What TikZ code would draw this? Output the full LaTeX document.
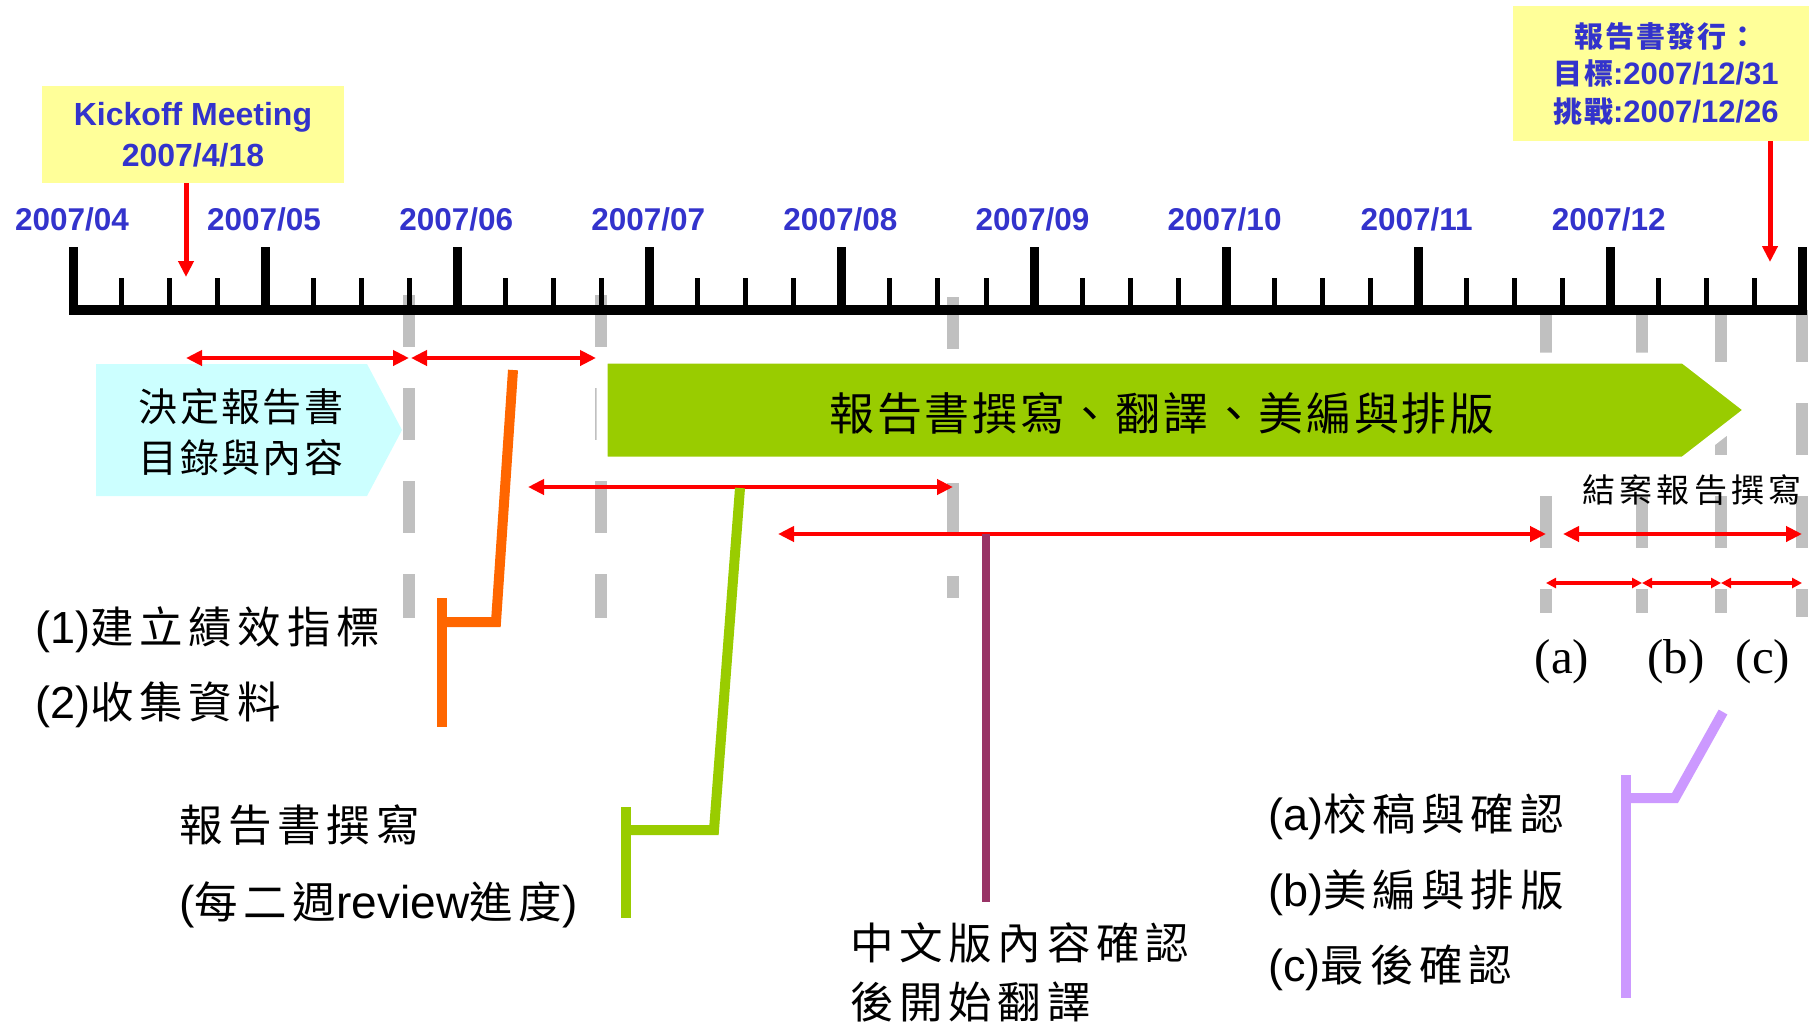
\documentclass[tikz,border=0pt]{standalone}
\usepackage{fontspec}
\setmainfont{Liberation Sans}
\newfontfamily\timesfont{Liberation Serif}
\newfontfamily\hanzi[LetterSpace=13]{Noto Sans CJK TC}
\newfontfamily\hanzimid[LetterSpace=6]{Noto Sans CJK TC}
\usetikzlibrary{arrows.meta}
\definecolor{titleblue}{HTML}{3333CC}
\definecolor{noteyellow}{HTML}{FFFF99}
\definecolor{planblue}{HTML}{CCFFFF}
\definecolor{writegreen}{HTML}{99CC00}
\definecolor{guidegray}{HTML}{C0C0C0}
\definecolor{leadorange}{HTML}{FF6600}
\definecolor{leadplum}{HTML}{993366}
\definecolor{leadlilac}{HTML}{CC99FF}
\newcommand\cjkword[1]{{\hanzi\fontsize{21.75}{21.75}\selectfont #1}}
\begin{document}
\begin{tikzpicture}[x=0.5pt,y=-0.5pt,
  guide/.style={guidegray,line width=6pt,dash pattern=on 26pt off 20.5pt},
  majortick/.style={line width=4.5pt},
  minortick/.style={line width=2.5pt},
  month/.style={text=titleblue,inner sep=0pt,font=\fontsize{15.75}{18}\selectfont\bfseries},
  notebox/.style={fill=noteyellow,text=titleblue,align=center,inner sep=0pt},
  pointer/.style={red,line width=2.5pt,-{Triangle[length=8pt,width=7.5pt]}},
  redspan/.style={red,line width=2.25pt,{Triangle[length=8pt,width=7.5pt]}-{Triangle[length=8pt,width=7.5pt]}},
  smallspan/.style={red,line width=1.75pt,{Triangle[length=5pt,width=5pt]}-{Triangle[length=5pt,width=5pt]}},
  leader/.style={line width=5pt},
  tasktext/.style={inner sep=0pt,anchor=west,align=left}]
	\useasboundingbox (0,0) rectangle (1809,1023);
	% milestone guides
	\foreach \x/\ya/\yb [count=\i] in {409/295/618,601/295/618,953/297/598,1546/310/613,1642/310/613,1721/310/613,1802/310/617}
		\draw[guide] (\x,\ya) coordinate (g\i) -- (\x,\yb);
	% time axis
	\draw[line width=5pt] (69,310) -- (1807,310);
	\foreach \k in {0,...,9}
		\draw[majortick] ({73.5+192.1*\k},247) -- ++(0,60);
	\foreach \k in {0,...,8}
		\foreach \j in {1,2,3}
			\draw[minortick] ({73.5+192.1*\k+48.03*\j},278) -- ++(0,29);
	\foreach \m [count=\k from 0] in {04,05,06,07,08,09,10,11,12}
		\node[month] (m\m) at ({72+192.1*\k},219) {2007/\m};
	% kickoff and release
	\node[notebox,minimum width=151pt,minimum height=48.5pt,font=\fontsize{16}{20.5}\selectfont\bfseries] (kick) at (193,134.5) {Kickoff Meeting\\2007/4/18};
	\coordinate (kickday) at (186,277);
	\draw[pointer] (kick.south -| kickday) -- (kickday);
	\node[notebox,minimum width=153pt,minimum height=67.5pt,font=\fontsize{15.5}{18.75}\selectfont\bfseries] (issue) at (1666,73.5) {{\hanzimid\fontsize{14.5}{14.5}\selectfont 報告書發行：}\\{\hanzimid\fontsize{14.5}{14.5}\selectfont 目標}:2007/12/31\\{\hanzimid\fontsize{14.5}{14.5}\selectfont 挑戰}:2007/12/26};
	\coordinate (issueday) at (1770,262);
	\draw[pointer] (issue.south -| issueday) -- (issueday);
	% task bars
	\fill[planblue] (96,364) -- (367,364) -- (402,430) -- (367,496) -- (96,496) -- cycle;
	\node[font=\hanzimid\fontsize{19.5}{25.5}\selectfont,align=center,inner sep=0pt] (plan) at (241,432) {決定報告書\\目錄與內容};
	\filldraw[fill=writegreen,draw=white,line width=5.5pt] (602,358) -- (1684,358) -- (1751,410) -- (1684,462) -- (602,462) -- cycle;
	\node[font=\hanzimid\fontsize{22.5}{27}\selectfont,inner sep=0pt] (work) at (1162,413) {報告書撰寫、翻譯、美編與排版};
	% spans
	\coordinate (row1) at (0,358);
	\coordinate (row3) at (0,487);
	\coordinate (row4) at (0,534);
	\coordinate (row5) at (0,583);
	\coordinate (draftstart) at (528,487);
	\coordinate (transstart) at (778,534);
	\draw[redspan] (kickday |- row1) -- (g1 |- row1);
	\draw[redspan,shorten <=1pt,shorten >=2.5pt] (g1 |- row1) -- (g2 |- row1);
	\draw[redspan] (draftstart) -- (g3 |- row3);
	\draw[redspan] (transstart) -- (g4 |- row4);
	\draw[redspan,shorten <=8.5pt] (g4 |- row4) -- (g7 |- row4);
	\draw[smallspan] (g4 |- row5) -- (g5 |- row5);
	\draw[smallspan] (g5 |- row5) -- (g6 |- row5);
	\draw[smallspan] (g6 |- row5) -- (g7 |- row5);
	\node[font=\hanzi\fontsize{16.5}{18}\selectfont,inner sep=0pt,anchor=east] (closing) at (1802,490) {結案報告撰寫};
	\foreach \s/\x in {a/1562,b/1676,c/1763}
		\node[font=\timesfont\fontsize{24.5}{28}\selectfont,inner sep=0pt] (step\s) at (\x,662) {(\s)};
	% leaders
	\coordinate (t1a) at (513,370);
	\coordinate (t1b) at (496,622);
	\coordinate (t1c) at (442,598);
	\coordinate (t1d) at (442,727);
	\draw[leader,leadorange] (t1a) -- (t1b) -- (t1b -| t1c);
	\draw[leader,leadorange] (t1c) -- (t1d);
	\coordinate (t2a) at (740,488);
	\coordinate (t2b) at (714,830);
	\coordinate (t2c) at (626,807);
	\coordinate (t2d) at (626,918);
	\draw[leader,writegreen] (t2a) -- (t2b) -- (t2b -| t2c);
	\draw[leader,writegreen] (t2c) -- (t2d);
	\coordinate (t3a) at (986,534);
	\coordinate (t3b) at (986,902);
	\draw[leader,leadplum,line width=4pt] (t3a) -- (t3b);
	\coordinate (t4a) at (1723,712);
	\coordinate (t4b) at (1675,798);
	\coordinate (t4c) at (1626,775);
	\coordinate (t4d) at (1626,998);
	\draw[leader,leadlilac] (t4a) -- (t4b) -- (t4b -| t4c);
	\draw[leader,leadlilac] (t4c) -- (t4d);
	% notes
	\node[tasktext,font=\fontsize{22.5}{37.5}\selectfont] (goals) at (35,667.5) {(1)\cjkword{建立績效指標}\\(2)\cjkword{收集資料}};
	\node[tasktext,font=\fontsize{23}{38.5}\selectfont] (draft) at (179,866.5) {\cjkword{報告書撰寫}\\(\cjkword{每二週}review\cjkword{進度})};
	\node[tasktext,font=\fontsize{22.5}{29.5}\selectfont] (confirm) at (850,972.5) {\cjkword{中文版內容確認}\\\cjkword{後開始翻譯}};
	\node[tasktext,font=\fontsize{22.5}{37.75}\selectfont] (steps) at (1268,892.5) {(a)\cjkword{校稿與確認}\\(b)\cjkword{美編與排版}\\(c)\cjkword{最後確認}};
\end{tikzpicture}
\end{document}
